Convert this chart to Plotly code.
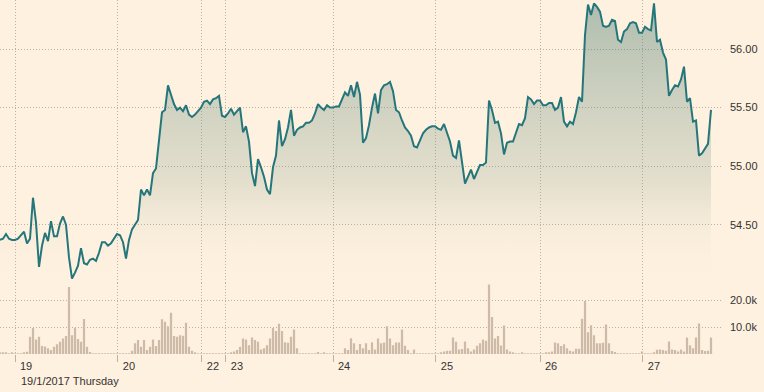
import plotly.graph_objects as go

# Intraday price (sampled at regular intervals across the trading sessions)
price = [
    54.37, 54.38, 54.42, 54.38, 54.37, 54.37, 54.38, 54.41, 54.44, 54.34,
    54.38, 54.73, 54.52, 54.14, 54.32, 54.43, 54.36, 54.53, 54.40, 54.40,
    54.51, 54.57, 54.50, 54.22, 54.04, 54.09, 54.15, 54.30, 54.17, 54.16,
    54.20, 54.21, 54.19, 54.26, 54.35, 54.35, 54.32, 54.34, 54.38, 54.42,
    54.41, 54.35, 54.21, 54.37, 54.46, 54.50, 54.54, 54.80, 54.75, 54.80,
    54.75, 54.94, 54.98, 55.22, 55.46, 55.48, 55.69, 55.61, 55.53, 55.48,
    55.50, 55.47, 55.52, 55.44, 55.42, 55.44, 55.47, 55.50, 55.55, 55.56,
    55.53, 55.57, 55.58, 55.60, 55.43, 55.42, 55.45, 55.49, 55.44, 55.47,
    55.50, 55.29, 55.34, 55.21, 54.94, 54.83, 55.06, 54.99, 54.91, 54.80,
    54.76, 54.99, 55.09, 55.39, 55.17, 55.23, 55.33, 55.48, 55.26, 55.31,
    55.33, 55.34, 55.37, 55.37, 55.39, 55.45, 55.53, 55.50, 55.48, 55.52,
    55.50, 55.50, 55.51, 55.51, 55.57, 55.63, 55.60, 55.69, 55.59, 55.72,
    55.61, 55.20, 55.24, 55.35, 55.50, 55.62, 55.45, 55.65, 55.69, 55.70,
    55.72, 55.64, 55.48, 55.46, 55.39, 55.33, 55.30, 55.26, 55.17, 55.16,
    55.22, 55.28, 55.31, 55.33, 55.34, 55.34, 55.32, 55.31, 55.36, 55.28,
    55.21, 55.09, 55.07, 55.22, 55.05, 54.85, 54.91, 54.97, 54.89, 54.95,
    55.01, 55.01, 55.03, 55.56, 55.48, 55.37, 55.38, 55.28, 55.10, 55.20,
    55.21, 55.21, 55.29, 55.36, 55.35, 55.41, 55.59, 55.57, 55.53, 55.56,
    55.56, 55.52, 55.52, 55.54, 55.54, 55.48, 55.50, 55.59, 55.38, 55.34,
    55.38, 55.36, 55.46, 55.59, 55.55, 56.12, 56.38, 56.29, 56.39, 56.36,
    56.32, 56.20, 56.19, 56.20, 56.25, 56.24, 56.08, 56.06, 56.15, 56.17,
    56.22, 56.23, 56.22, 56.14, 56.14, 56.19, 56.17, 56.16, 56.39, 56.06,
    56.08, 55.97, 55.91, 55.60, 55.65, 55.69, 55.68, 55.74, 55.85, 55.55,
    55.58, 55.38, 55.39, 55.09, 55.11, 55.15, 55.19, 55.48,
]

# Volume per interval, in thousands
volume_k = [
    0.4, 0.4, 0.4, 0.3, 0.4, 0.3, 0.2, 0.3, 0.4, 0.8,
    6.4, 9.7, 5.4, 6.4, 3.0, 2.8, 2.1, 1.5, 2.7, 3.6,
    4.6, 5.8, 6.7, 25.0, 7.0, 9.8, 5.6, 4.6, 13.1, 2.7,
    0.7, 0.3, 0.2, 0.3, 0.2, 0.3, 0.2, 0.3, 0.2, 0.2,
    0.2, 0.2, 0.3, 0.3, 1.2, 4.0, 5.2, 2.7, 5.2, 1.5,
    2.7, 5.4, 3.0, 5.2, 13.0, 12.0, 10.4, 15.4, 6.7, 6.4,
    7.0, 6.8, 11.7, 2.7, 1.2, 0.4, 0.3, 0.2, 0.2, 0.2,
    0.2, 0.2, 0.3, 0.2, 0.2, 0.2, 0.3, 0.5, 0.9, 1.5,
    2.7, 5.8, 5.4, 3.3, 6.2, 5.2, 4.6, 1.7, 2.1, 3.3,
    5.8, 9.7, 8.6, 11.3, 8.6, 4.4, 4.2, 6.4, 9.1, 2.1,
    0.3, 0.2, 0.2, 0.2, 0.2, 0.3, 0.7, 0.3, 0.5, 0.2,
    0.2, 0.2, 0.2, 0.3, 0.3, 2.1, 1.5, 5.9, 4.0, 1.5,
    3.7, 2.1, 4.0, 1.5, 4.4, 1.7, 5.8, 4.0, 4.3, 10.4,
    5.8, 3.3, 4.3, 4.3, 9.1, 3.1, 1.5, 0.2, 1.7, 0.2,
    0.2, 0.2, 0.2, 0.2, 0.2, 0.2, 0.3, 0.5, 0.9, 1.2,
    1.2, 6.2, 4.6, 1.7, 1.9, 4.7, 2.1, 0.9, 1.7, 3.1,
    4.0, 5.4, 4.9, 25.9, 13.8, 5.8, 6.7, 3.2, 10.6, 1.7,
    0.9, 0.5, 0.2, 0.2, 0.5, 0.3, 0.2, 0.2, 0.2, 0.2,
    0.2, 0.3, 0.5, 0.5, 0.9, 4.3, 4.0, 3.0, 3.6, 2.1,
    1.2, 0.9, 2.0, 2.0, 13.2, 19.8, 8.1, 10.7, 7.0, 4.0,
    4.0, 4.2, 11.0, 4.0, 1.1, 0.7, 0.2, 0.2, 0.2, 0.2,
    0.2, 0.2, 0.2, 0.2, 0.9, 0.2, 0.2, 0.3, 0.5, 1.6,
    1.7, 1.5, 1.2, 4.7, 1.7, 1.5, 0.9, 1.7, 0.9, 6.2,
    3.3, 2.1, 6.2, 11.4, 1.5, 1.1, 1.2, 6.2,
]

# Session starts (sample position) and their day labels
day_pos = [5, 39.3, 67.3, 75.3, 111, 145.3, 180, 214.3]
day_labels = ["19", "20", "22", "23", "24", "25", "26", "27"]

price_ticks = [54.5, 55.0, 55.5, 56.0]
vol_ticks = [10, 20]
vol_tick_labels = ["10.0k", "20.0k"]
date_caption = "19/1/2017 Thursday"

BG = "#fff1e0"
GRID = "#bdb1a4"
TEXT = "#333333"
FONT = "Arial, Liberation Sans, sans-serif"
DOTS = "1px,2px"

idx = list(range(len(price)))

fig = go.Figure()
fig.add_trace(go.Bar(
    x=idx, y=volume_k, yaxis="y2", xaxis="x",
    marker=dict(color="#cdbba8", line=dict(width=0)),
    hoverinfo="skip",
))
fig.add_trace(go.Scatter(
    x=idx, y=price, yaxis="y", xaxis="x", mode="lines",
    line=dict(color="#24767b", width=2),
    fill="tozeroy",
    fillgradient=dict(
        type="vertical",
        colorscale=[[0, "rgba(255,241,224,0)"], [0.35, "rgba(120,150,130,0.2)"],
                    [1, "rgba(60,115,105,0.42)"]],
        start=54.0, stop=56.42,
    ),
    hoverinfo="skip",
))

fig.update_layout(
    width=764, height=392,
    margin=dict(l=0, r=41, t=0, b=38),
    paper_bgcolor=BG, plot_bgcolor=BG,
    showlegend=False,
    bargap=0.25,
    font=dict(family=FONT, size=11, color=TEXT),
    xaxis=dict(
        range=[0, 241], anchor="y2",
        tickvals=day_pos, ticktext=day_labels,
        showgrid=True, gridcolor=GRID, griddash=DOTS, gridwidth=1,
        ticks="outside", ticklen=7, tickcolor=GRID,
        ticklabelshift=11, ticklabelstandoff=-5,
        tickfont=dict(size=11, color=TEXT),
        zeroline=False, showline=False,
    ),
    yaxis=dict(
        domain=[0.2, 1], range=[54.0, 56.419], anchor="x", side="right",
        tickvals=price_ticks, tickformat=".2f",
        showgrid=True, gridcolor=GRID, griddash=DOTS, gridwidth=1,
        zeroline=False, showline=False, ticks="",
        ticklabelstandoff=6,
        tickfont=dict(size=11, color=TEXT),
    ),
    yaxis2=dict(
        domain=[0, 0.2], range=[0, 26.42], anchor="x", side="right",
        tickvals=vol_ticks, ticktext=vol_tick_labels,
        showgrid=True, gridcolor=GRID, griddash=DOTS, gridwidth=1,
        zeroline=False, showline=False, ticks="",
        ticklabelstandoff=6,
        tickfont=dict(size=11, color=TEXT),
    ),
    annotations=[dict(
        text=date_caption, xref="paper", yref="paper",
        x=19 / 723, y=-27 / 354, xanchor="left", yanchor="middle",
        showarrow=False, font=dict(size=11, color=TEXT),
    )],
)

fig.write_html(
    "out.html",
    config={"displayModeBar": False},
    post_script="document.body.style.margin='0';",
)
